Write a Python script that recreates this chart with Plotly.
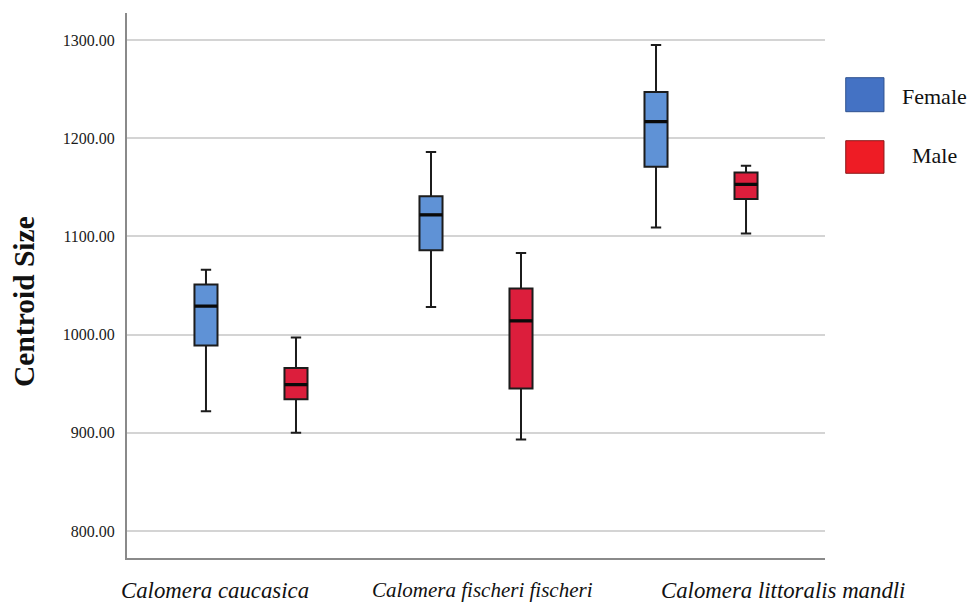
import plotly.graph_objects as go

categories = ["Calomera caucasica", "Calomera fischeri fischeri", "Calomera littoralis mandli"]

female_low = [922, 1028, 1109]
female_q1 = [989, 1086, 1171]
female_med = [1029, 1122, 1217]
female_q3 = [1051, 1141, 1247]
female_high = [1066, 1186, 1295]

male_low = [900, 893, 1103]
male_q1 = [934, 945, 1138]
male_med = [949, 1014, 1153]
male_q3 = [966, 1047, 1165]
male_high = [997, 1083, 1172]

y_ticks = [800, 900, 1000, 1100, 1200, 1300]

FONT = "Liberation Serif"
F_FILL = "#5f92d6"
M_FILL = "#dc1e3c"

fig = go.Figure()

def add_group(name, group, low, q1, med, q3, high, fill):
    fig.add_trace(go.Box(
        name=name, x=categories, q1=q1, median=med, q3=q3,
        lowerfence=low, upperfence=high, offsetgroup=group,
        fillcolor=fill, line=dict(color="#1c1c1c", width=2),
        whiskerwidth=0.45, boxpoints=False, showlegend=False,
    ))
    # thick median overlay
    fig.add_trace(go.Box(
        name=name + " median", x=categories, q1=med, median=med, q3=med,
        lowerfence=med, upperfence=med, offsetgroup=group,
        fillcolor="rgba(0,0,0,0)", line=dict(color="#0a0a0a", width=3.2),
        whiskerwidth=0, boxpoints=False, showlegend=False, hoverinfo="skip",
    ))

add_group("Female", "F", female_low, female_q1, female_med, female_q3, female_high, F_FILL)
add_group("Male", "M", male_low, male_q1, male_med, male_q3, male_high, M_FILL)

fig.update_layout(
    width=970, height=603,
    margin=dict(l=127, r=145, t=13, b=45),
    paper_bgcolor="white", plot_bgcolor="white",
    boxmode="group", boxgap=0.2, boxgroupgap=0.744,
    font=dict(family=FONT, color="#1a1a1a"),
    showlegend=False,
)

fig.update_xaxes(
    type="category", range=[-0.551, 2.551],
    showticklabels=False, showgrid=False, zeroline=False,
    showline=True, linecolor="#8a8a8a", linewidth=2,
)
fig.update_yaxes(
    range=[772.4, 1327.6], tickvals=y_ticks, tickformat=".2f",
    tickfont=dict(family=FONT, size=16, color="#1a1a1a"),
    ticklabelstandoff=7,
    showgrid=True, gridcolor="#d4d4d4", gridwidth=1.5, zeroline=False,
    showline=True, linecolor="#8a8a8a", linewidth=2,
)

# category labels (placed and sized as in the reference)
label_shift = [-36, 6, 82]
label_size = [22.8, 21, 22.8]
for cat, sh, sz in zip(categories, label_shift, label_size):
    fig.add_annotation(
        x=cat, xref="x", y=0, yref="paper", yanchor="middle", yshift=-32,
        xshift=sh, text="<i>" + cat + "</i>", showarrow=False,
        font=dict(family=FONT, size=sz, color="#111"),
    )

# y-axis title
fig.add_annotation(
    x=-0.1476, xref="paper", y=0.4716, yref="paper", textangle=-90,
    text="<b>Centroid Size</b>", showarrow=False,
    xanchor="center", yanchor="middle",
    font=dict(family=FONT, size=29.5, color="#111"),
)

# custom legend
legend_items = [("Female", "#4472c4", "#2f528f", 0.8813, 0.8189, 0.8477),
                ("Male", "#ee1c25", "#8b1a1a", 0.7657, 0.7059, 0.7394)]
for label, col, border, y1, y0, yt in legend_items:
    fig.add_shape(type="rect", xref="paper", yref="paper",
                  x0=1.0297, x1=1.0845, y0=y0, y1=y1,
                  fillcolor=col, line=dict(color=border, width=1))
    fig.add_annotation(x=1.1575, xref="paper", y=yt, yref="paper",
                       text=label, showarrow=False, xanchor="center", yanchor="middle",
                       font=dict(family=FONT, size=22, color="#111"))

fig.write_html("out.html")
